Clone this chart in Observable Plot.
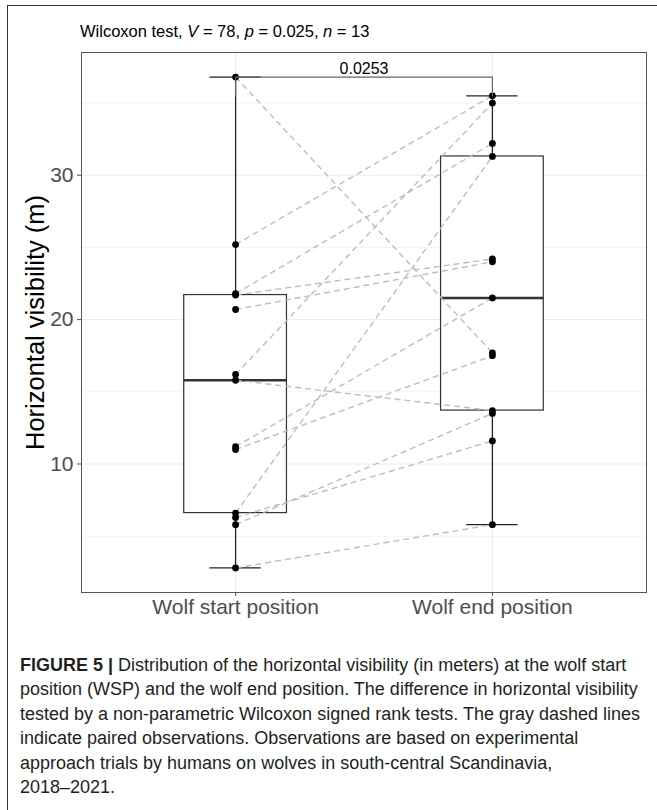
<!DOCTYPE html>
<html><head><meta charset="utf-8">
<script src="https://cdn.jsdelivr.net/npm/d3@7"></script>
<script src="https://cdn.jsdelivr.net/npm/@observablehq/plot@0.6"></script>
<style>
body{margin:0;background:#fff;font-family:"Liberation Sans",Arial,sans-serif;}
#fig{position:relative;width:657px;height:810px;overflow:hidden;background:#fff;}
#frame{position:absolute;left:7px;top:5px;width:700px;height:900px;border-left:1.5px solid #333;border-top:1.5px solid #333;}
#chart{position:absolute;left:0;top:0;}
#sub{position:absolute;left:80px;top:22px;font-size:16.5px;line-height:19px;color:#000;white-space:nowrap;}
#cap{position:absolute;left:20px;top:653px;font-size:18px;line-height:24.4px;color:#231f20;}
#cap div{white-space:nowrap;}
</style></head><body>
<div id="fig">
<div id="frame"></div>
<div id="chart"></div>
<div id="sub">Wilcoxon test, <i>V</i> = 78, <i>p</i> = 0.025, <i>n</i> = 13</div>
<div id="cap"></div>
</div>
<script>
const groups = ["Wolf start position", "Wolf end position"];
const startValues = [36.8, 25.2, 21.8, 21.7, 20.7, 16.2, 15.8, 11.2, 11.0, 6.6, 6.3, 5.8, 2.8];
const endValues   = [17.7, 35.5, 32.2, 24.2, 24.0, 35.0, 13.7, 21.5, 17.5, 31.3, 11.6, 13.5, 5.8];
const pLabel = "0.0253";
const yTicks = [10, 20, 30];
const yMinor = [5, 15, 25, 35];
const yTitle = "Horizontal visibility (m)";
const captionBold = "FIGURE 5 |";
const captionLines = [
  " Distribution of the horizontal visibility (in meters) at the wolf start",
  "position (WSP) and the wolf end position. The difference in horizontal visibility",
  "tested by a non-parametric Wilcoxon signed rank tests. The gray dashed lines",
  "indicate paired observations. Observations are based on experimental",
  "approach trials by humans on wolves in south-central Scandinavia,",
  "2018\u20132021."
];

// caption
const cap = document.getElementById("cap");
captionLines.forEach((t, k) => {
  const d = document.createElement("div");
  if (k === 0) {
    const b = document.createElement("b"); b.textContent = captionBold; d.appendChild(b);
  }
  d.appendChild(document.createTextNode(t));
  cap.appendChild(d);
});

// data tables
const series = [startValues, endValues];
const points = series.flatMap((vals, k) => vals.map(v => ({i: k + 1, v})));
const pairs = startValues.map((s, k) => ({s, e: endValues[k]}));
const stats = series.map((vals, k) => {
  const s = vals.slice().sort(d3.ascending);
  const q1 = d3.quantile(s, 0.25), med = d3.quantile(s, 0.5), q3 = d3.quantile(s, 0.75);
  const iqr = q3 - q1;
  const lo = d3.min(s.filter(v => v >= q1 - 1.5 * iqr));
  const hi = d3.max(s.filter(v => v <= q3 + 1.5 * iqr));
  return {i: k + 1, q1, med, q3, lo, hi};
});
const all = points.map(d => d.v);
const [ymin, ymax] = d3.extent(all);
const pad = (ymax - ymin) * 0.05;
const bracketY = ymax;
const tip = (ymax - ymin + 2 * pad) * 0.037;

const chart = Plot.plot({
  width: 657,
  height: 630,
  marginLeft: 81,
  marginRight: 11,
  marginTop: 52,
  marginBottom: 38,
  style: {fontFamily: "Liberation Sans, Arial, sans-serif", background: "transparent"},
  x: {domain: [0.4, 2.6]},
  y: {domain: [ymin - pad, ymax + pad]},
  marks: [
    Plot.frame({fill: "white"}),
    Plot.ruleY(yMinor, {stroke: "#ebebeb", strokeWidth: 0.6}),
    Plot.ruleY(yTicks, {stroke: "#ebebeb", strokeWidth: 1.1}),
    Plot.ruleX(stats, {x: "i", stroke: "#ebebeb", strokeWidth: 1.1}),
    Plot.ruleX(stats, {x: "i", y1: "q3", y2: "hi", stroke: "#222", strokeWidth: 1.3}),
    Plot.ruleX(stats, {x: "i", y1: "lo", y2: "q1", stroke: "#222", strokeWidth: 1.3}),
    Plot.ruleY(stats, {y: "hi", x1: d => d.i - 0.1, x2: d => d.i + 0.1, stroke: "#222", strokeWidth: 1.3}),
    Plot.ruleY(stats, {y: "lo", x1: d => d.i - 0.1, x2: d => d.i + 0.1, stroke: "#222", strokeWidth: 1.3}),
    Plot.rect(stats, {x1: d => d.i - 0.2, x2: d => d.i + 0.2, y1: "q1", y2: "q3", fill: "white", stroke: "#333", strokeWidth: 1.2}),
    Plot.ruleY(stats, {y: "med", x1: d => d.i - 0.2, x2: d => d.i + 0.2, stroke: "#333", strokeWidth: 2.6}),
    Plot.link(pairs, {x1: () => 1, x2: () => 2, y1: "s", y2: "e", stroke: "#bdbdbd", strokeWidth: 1.4, strokeDasharray: "6,4"}),
    Plot.dot(points, {x: "i", y: "v", r: 3.4, fill: "black"}),
    Plot.ruleY([bracketY], {y: d => d, x1: () => 1, x2: () => 2, stroke: "#666", strokeWidth: 1.2}),
    Plot.ruleX([1, 2], {x: d => d, y1: () => bracketY, y2: () => bracketY - tip, stroke: "#666", strokeWidth: 1.2}),
    Plot.text([pLabel], {x: () => 1.5, y: () => bracketY, text: d => d, lineAnchor: "bottom", dy: -3, fontSize: 16, fill: "#000"}),
    Plot.frame({stroke: "#555", strokeWidth: 1}),
    Plot.axisY(yTicks, {tickSize: 4, tickPadding: 4, fontSize: 21, color: "#4d4d4d", label: null}),
    Plot.axisX([1, 2], {tickSize: 4, tickPadding: 3, fontSize: 21, color: "#4d4d4d", tickFormat: d => groups[d - 1], label: null}),
    Plot.text([yTitle], {frameAnchor: "left", textAnchor: "middle", rotate: -90, dx: -46, fontSize: 25.5, fill: "#000", text: d => d})
  ]
});
document.getElementById("chart").appendChild(chart);
</script>
</body></html>
